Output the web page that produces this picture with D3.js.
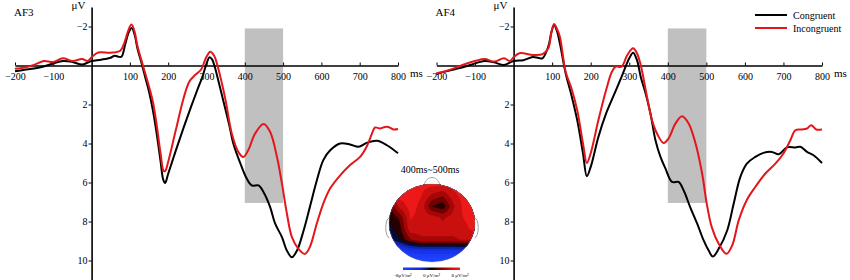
<!DOCTYPE html>
<meta charset="utf-8">
<script src="https://d3js.org/d3.v7.min.js"></script>
<style>
  body { margin: 0; background: #fff; }
  svg text { font-family: "Liberation Serif", "Times New Roman", serif; fill: #000; }
</style>
<body>
<div id="viz"></div>
<script>

// ---- data (time in ms, amplitude in µV, negative up) ----
const xTicks = [-200, -100, 100, 200, 300, 400, 500, 600, 700, 800];
const yTicks = [-2, 2, 4, 6, 8, 10];
const windowMs = [400, 500];
const windowUv = [-1.9, 7.05];
const seriesNames = ["Congruent", "Incongruent"];
const seriesColors = ["#000000", "#e3161b"];

const af3Congruent = [[-200,0.3],[-175,0.22],[-150,0.15],[-125,0.05],[-100,-0.1],[-75,-0.23],[-50,-0.18],[-25,-0.05],[-10,-0.15],[0,-0.23],[25,-0.3],[50,-0.4],[60,-0.5],[70,-0.45],[78,-0.45],[88,-1.1],[97,-1.7],[105,-1.92],[112,-1.6],[120,-0.85],[130,-0.15],[140,0.6],[150,1.35],[160,2.3],[170,3.5],[180,4.9],[187,5.85],[192,6.02],[200,5.55],[220,4.35],[240,3.2],[260,2.1],[280,1.05],[290,0.55],[300,-0.1],[308,-0.42],[315,-0.3],[322,0.1],[330,0.7],[340,1.5],[350,2.3],[360,3.1],[370,4.0],[388,5.0],[405,5.8],[418,6.15],[436,6.15],[449,6.5],[466,7.25],[479,8.1],[497,8.8],[510,9.5],[523,9.83],[536,9.5],[553,8.5],[570,7.25],[588,5.9],[605,4.85],[623,4.35],[649,4.0],[675,4.05],[697,4.17],[718,3.97],[745,3.86],[771,4.09],[800,4.5]];
const af3Incongruent = [[-200,0.17],[-175,0.1],[-150,-0.03],[-125,-0.23],[-100,-0.18],[-75,-0.37],[-50,-0.23],[-25,-0.33],[-10,-0.23],[0,-0.42],[15,-0.65],[25,-0.68],[50,-0.66],[75,-0.76],[85,-1.14],[95,-1.75],[104,-2.1],[112,-1.75],[120,-0.97],[135,0.06],[150,1.09],[160,1.86],[170,3.06],[180,4.5],[188,5.4],[192,5.42],[200,4.94],[220,3.3],[240,1.69],[255,0.83],[270,0.49],[285,0.23],[300,-0.45],[310,-0.71],[320,-0.5],[330,0.1],[340,0.9],[350,1.8],[366,3.49],[383,4.43],[396,4.69],[409,4.34],[427,3.49],[449,3.0],[466,3.4],[484,4.69],[497,6.06],[510,7.6],[523,8.8],[540,9.4],[557,9.66],[570,9.3],[588,8.1],[605,7.08],[623,6.3],[649,5.63],[675,5.1],[701,4.69],[718,4.17],[732,3.49],[740,3.18],[753,3.23],[766,3.15],[775,3.15],[788,3.28],[800,3.26]];
const af4Congruent = [[-200,0.44],[-175,0.3],[-150,0.18],[-125,0.05],[-100,-0.11],[-75,-0.23],[-50,-0.16],[-25,-0.03],[0,-0.23],[25,-0.27],[50,-0.44],[65,-0.38],[75,-0.37],[90,-0.97],[98,-1.7],[105,-2.08],[112,-1.8],[120,-1.14],[135,0.4],[150,1.52],[165,2.8],[180,4.5],[190,5.68],[200,5.2],[220,3.66],[240,2.46],[260,1.52],[280,0.58],[300,-0.37],[310,-0.66],[320,-0.28],[330,0.6],[342,1.4],[355,2.46],[368,3.83],[381,4.69],[394,5.29],[411,5.97],[428,5.97],[441,6.4],[458,7.26],[476,8.1],[493,8.97],[506,9.49],[517,9.8],[532,9.4],[554,8.46],[571,7.08],[588,5.72],[605,5.03],[627,4.69],[648,4.48],[670,4.43],[688,4.55],[709,4.2],[731,4.2],[744,4.17],[761,4.43],[778,4.6],[800,5.0]];
const af4Incongruent = [[-200,0.4],[-175,0.28],[-150,0.11],[-125,-0.08],[-100,-0.23],[-75,-0.33],[-50,-0.2],[-25,-0.37],[-10,-0.23],[0,-0.42],[15,-0.63],[50,-0.54],[75,-0.58],[90,-0.88],[98,-1.7],[105,-2.13],[112,-1.9],[120,-1.48],[135,0.32],[150,1.17],[165,2.29],[180,4.0],[190,5.0],[200,4.5],[220,2.8],[240,1.26],[255,0.32],[265,0.06],[280,0.06],[295,-0.54],[310,-0.88],[320,-0.63],[330,0.0],[346,1.6],[359,2.8],[372,3.49],[389,3.97],[402,3.74],[420,2.97],[437,2.6],[454,2.97],[472,4.0],[489,5.54],[501,7.08],[514,8.29],[532,9.14],[552,9.66],[567,9.23],[584,7.94],[605,6.9],[627,6.23],[653,5.54],[679,5.03],[700,4.51],[718,3.83],[731,3.32],[748,3.28],[761,3.23],[772,3.06],[785,3.28],[800,3.28]];

// topographic map 400-500 ms, coarse grid of µV/m² values (rows top -> bottom, cols left -> right)
const topoGrid = [
  [ 6,   7,   7,   7,   7,   7,   7,   7,   7  ],
  [ 4,   7,   7,   6.5, 4.5, 3.5, 6,   7,   7  ],
  [ 1,   5.5, 7,   6,   1.5, 0.5, 4.5, 7,   7  ],
  [ 0,   2,   6.5, 6,   5.5, 4.5, 5.5, 6.5, 7  ],
  [-0.5, 1,   6,   5.5, 5.5, 5.5, 5.5, 6,   7  ],
  [-2,   0,   3,   4.5, 4.5, 4.5, 4.5, 5,   4.5],
  [-8,  -7,  -5.5,-5,  -5,  -5,  -5,  -5,  -5.5],
  [-10, -10, -10, -10, -10, -10, -10, -10, -10 ]
];
const topoRange = [-8, 8];
const topoLabels = ["-8μV/m²", "0 μV/m²", "8 μV/m²"];

// ---- layout ----
const W = 850, H = 280;
const svg = d3.select("#viz").append("svg")
  .attr("width", W).attr("height", H)
  .style("display", "block");

const y = d3.scaleLinear().domain([-3, 11]).range([7, 280]);

const panels = [
  {name: "AF3", x: d3.scaleLinear().domain([-200, 800]).range([15, 398]), data: [af3Congruent, af3Incongruent]},
  {name: "AF4", x: d3.scaleLinear().domain([-200, 800]).range([436.5, 822]), data: [af4Congruent, af4Incongruent]}
];

panels.forEach(function(p) {
  const g = svg.append("g");

  // analysis window
  g.append("rect")
    .attr("x", p.x(windowMs[0]))
    .attr("width", p.x(windowMs[1]) - p.x(windowMs[0]))
    .attr("y", y(windowUv[0]))
    .attr("height", y(windowUv[1]) - y(windowUv[0]))
    .attr("fill", "#c0c0c0");

  // x axis along 0 µV
  const xAxis = g.append("g")
    .attr("transform", `translate(0,${y(0)})`)
    .call(d3.axisBottom(p.x).tickValues(xTicks).tickSizeInner(-3).tickSizeOuter(0).tickPadding(7));
  xAxis.select(".domain").attr("stroke-width", 1.3);
  xAxis.selectAll("text").attr("font-size", 10).style("font-family", "Liberation Serif, serif");

  // y axis at 0 ms
  const yAxis = g.append("g")
    .attr("transform", `translate(${p.x(0)},0)`)
    .call(d3.axisLeft(y).tickValues(yTicks).tickSizeInner(3).tickSizeOuter(0).tickPadding(1));
  yAxis.select(".domain").attr("stroke-width", 1.6);
  yAxis.selectAll("text").attr("font-size", 10).style("font-family", "Liberation Serif, serif");

  g.append("text").attr("x", p.x(0) - 20).attr("y", 9).attr("font-size", 11).text("μV");
  g.append("text").attr("x", p.x(800) + 12).attr("y", 77).attr("font-size", 11).text("ms");
  g.append("text").attr("x", p.x(-200) - 1).attr("y", 16).attr("font-size", 11).text(p.name);

  const line = d3.line()
    .x(d => p.x(d[0]))
    .y(d => y(d[1]))
    .curve(d3.curveCatmullRom.alpha(0.5));

  p.data.forEach(function(s, i) {
    g.append("path")
      .datum(s)
      .attr("d", line)
      .attr("fill", "none")
      .attr("stroke", seriesColors[i])
      .attr("stroke-width", 2)
      .attr("stroke-linejoin", "round");
  });
});

// legend
const legend = svg.append("g").attr("transform", "translate(755,15)");
seriesNames.forEach(function(n, i) {
  legend.append("line")
    .attr("x1", 0).attr("x2", 32)
    .attr("y1", i * 13).attr("y2", i * 13)
    .attr("stroke", seriesColors[i]).attr("stroke-width", 2);
  legend.append("text")
    .attr("x", 38).attr("y", i * 13 + 3.5)
    .attr("font-size", 10).text(n);
});

// ---- topographic map ----
const cx = 432, cy = 223, rx = 43, ry = 39;
const topo = svg.append("g");

topo.append("text")
  .attr("x", cx - 2).attr("y", 173)
  .attr("text-anchor", "middle")
  .attr("font-size", 10).text("400ms~500ms");

// nose and ears
topo.append("path")
  .attr("d", `M${cx - 8},${cy - ry + 1} C${cx - 5},${cy - ry - 9} ${cx + 5},${cy - ry - 9} ${cx + 8},${cy - ry + 1}`)
  .attr("fill", "none").attr("stroke", "#a0a0a0").attr("stroke-width", 1);
[-1, 1].forEach(function(s) {
  const ex = cx + s * (rx - 0.5);
  topo.append("path")
    .attr("d", `M${ex},${cy - 5} C${ex + s * 5},${cy - 5} ${ex + s * 5},${cy + 14} ${ex},${cy + 15}`)
    .attr("fill", "none").attr("stroke", "#a0a0a0").attr("stroke-width", 1);
});

const topoColor = d3.scaleLinear()
  .domain([-8, -3, 0, 3, 8])
  .range(["#1e40ff", "#1028d0", "#000000", "#900000", "#ff1c1c"])
  .clamp(true);

// bilinear upsampling of the coarse grid for smoother contours
const gRows = topoGrid.length, gCols = topoGrid[0].length, up = 6;
const nx = (gCols - 1) * up + 1, ny = (gRows - 1) * up + 1;
const vals = new Array(nx * ny);
for (let j = 0; j < ny; j++) {
  for (let i = 0; i < nx; i++) {
    const fx = i / up, fy = j / up;
    const i0 = Math.min(Math.floor(fx), gCols - 2), j0 = Math.min(Math.floor(fy), gRows - 2);
    const tx = fx - i0, ty = fy - j0;
    const a = topoGrid[j0][i0], b = topoGrid[j0][i0 + 1];
    const c = topoGrid[j0 + 1][i0], d = topoGrid[j0 + 1][i0 + 1];
    vals[j * nx + i] = (a * (1 - tx) + b * tx) * (1 - ty) + (c * (1 - tx) + d * tx) * ty;
  }
}
const step = 1.6;
const thresholds = d3.range(-11.2, 9.6, step);
const contours = d3.contours().size([nx, ny]).thresholds(thresholds)(vals);

svg.append("clipPath").attr("id", "headClip")
  .append("ellipse").attr("cx", cx).attr("cy", cy).attr("rx", rx).attr("ry", ry);

const sx = (2 * rx) / (nx - 1), sy = (2 * ry) / (ny - 1);
topo.append("g")
  .attr("clip-path", "url(#headClip)")
  .append("g")
  .attr("transform", `translate(${cx - rx - 0.5 * sx},${cy - ry - 0.5 * sy}) scale(${sx},${sy})`)
  .selectAll("path")
  .data(contours)
  .join("path")
    .attr("d", d3.geoPath())
    .attr("fill", d => topoColor(d.value + step / 2))
    .attr("stroke", "none");

topo.append("ellipse")
  .attr("cx", cx).attr("cy", cy).attr("rx", rx).attr("ry", ry)
  .attr("fill", "none").attr("stroke", "#888").attr("stroke-width", 0.4);

// colour bar
const cb = d3.scaleLinear().domain(topoRange).range([403, 460]);
const grad = svg.append("defs").append("linearGradient").attr("id", "cbGrad");
[-8, -3, 0, 3, 8].forEach(function(v) {
  grad.append("stop")
    .attr("offset", (cb(v) - cb.range()[0]) / (cb.range()[1] - cb.range()[0]))
    .attr("stop-color", topoColor(v));
});
topo.append("rect")
  .attr("x", cb(topoRange[0])).attr("y", 267.5)
  .attr("width", cb(topoRange[1]) - cb(topoRange[0])).attr("height", 2.5)
  .attr("fill", "url(#cbGrad)");
[topoRange[0], 0, topoRange[1]].forEach(function(v, i) {
  topo.append("text")
    .attr("x", cb(v)).attr("y", 277)
    .attr("text-anchor", "middle")
    .attr("font-size", 5).text(topoLabels[i]);
});

</script>
</body>
